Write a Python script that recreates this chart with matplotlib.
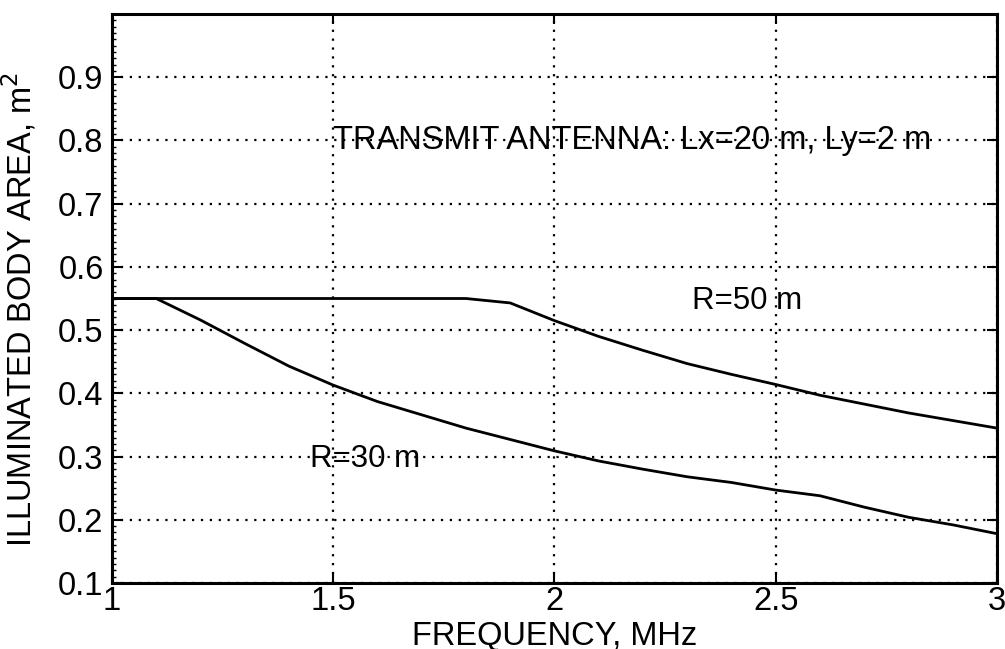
import matplotlib
matplotlib.use("Agg")
import matplotlib.pyplot as plt
from matplotlib.ticker import MultipleLocator

freq = [1.0, 1.1, 1.2, 1.3, 1.4, 1.5, 1.6, 1.7, 1.8, 1.9, 2.0,
        2.1, 2.2, 2.3, 2.4, 2.5, 2.6, 2.7, 2.8, 2.9, 3.0]
area_r30 = [0.55, 0.55, 0.516, 0.479, 0.443, 0.413, 0.387, 0.366, 0.345, 0.327, 0.309,
            0.293, 0.280, 0.268, 0.259, 0.247, 0.238, 0.220, 0.204, 0.192, 0.178]
area_r50 = [0.55, 0.55, 0.55, 0.55, 0.55, 0.55, 0.55, 0.55, 0.55, 0.543, 0.515,
            0.490, 0.468, 0.447, 0.430, 0.414, 0.397, 0.383, 0.369, 0.357, 0.345]
xticks = [1, 1.5, 2, 2.5, 3]
xtick_labels = ["1", "1.5", "2", "2.5", "3"]
yticks = [0.1, 0.2, 0.3, 0.4, 0.5, 0.6, 0.7, 0.8, 0.9]
ytick_labels = ["0.1", "0.2", "0.3", "0.4", "0.5", "0.6", "0.7", "0.8", "0.9"]

plt.rcParams['font.family'] = ['Liberation Sans', 'DejaVu Sans']
FS = 23.5

fig = plt.figure(figsize=(10.05, 6.49), dpi=100)
ax = fig.add_axes([0.1114, 0.1017, 0.8806, 0.8767])

ax.plot(freq, area_r50, color='black', lw=2.0, zorder=3)
ax.plot(freq, area_r30, color='black', lw=2.0, zorder=3)

ax.set_xlim(1, 3)
ax.set_ylim(0.1, 1.0)
ax.set_xticks(xticks)
ax.set_xticklabels(xtick_labels)
ax.set_yticks(yticks)
ax.set_yticklabels(ytick_labels)
ax.yaxis.set_minor_locator(MultipleLocator(0.01))

ax.grid(True, which='major', color='black', linestyle=(0, (1, 3)), lw=1.6)
ax.tick_params(which='major', direction='in', length=7, width=1.5,
               top=True, right=True, labelsize=FS)
ax.tick_params(which='minor', direction='in', length=3, width=1.0, right=False)
ax.tick_params(axis='x', which='major', pad=2)
ax.tick_params(axis='y', which='major', pad=6)
for s in ax.spines.values():
    s.set_linewidth(2.2)

ax.set_xlabel("FREQUENCY, MHz", fontsize=FS, va='top')
ax.xaxis.set_label_coords(0.5, -0.066)
ax.set_ylabel("ILLUMINATED BODY AREA, m$^2$", fontsize=FS)
ax.yaxis.set_label_coords(-0.083, 0.48)

ax.text(1.5, 0.80, "TRANSMIT ANTENNA: Lx=20 m, Ly=2 m", fontsize=FS,
        ha='left', va='center')
ax.text(2.311, 0.546, "R=50 m", fontsize=22.5, ha='left', va='center')
ax.text(1.447, 0.296, "R=30 m", fontsize=22.5, ha='left', va='center')

fig.savefig("out.png", dpi=100)
